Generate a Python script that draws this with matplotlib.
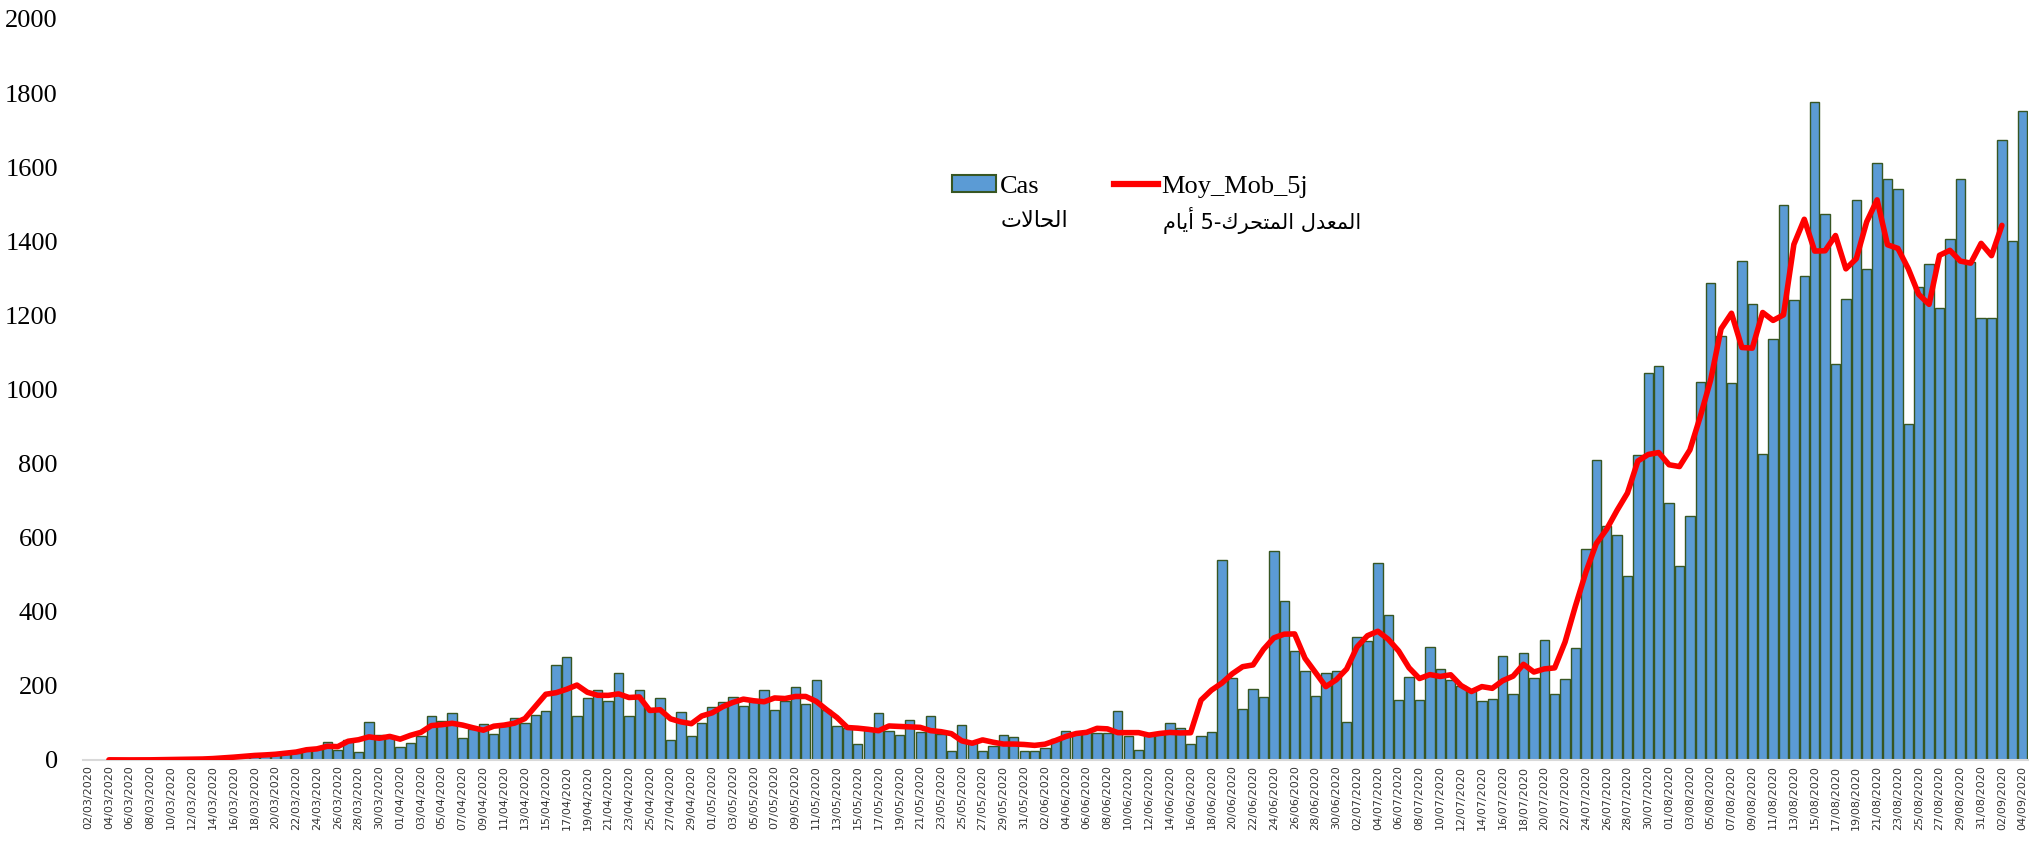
import matplotlib
matplotlib.use("Agg")
import matplotlib.pyplot as plt
from matplotlib.patches import Patch
from matplotlib.lines import Line2D
import numpy as np
import pandas as pd

# daily cases, 02/03/2020 -> 04/09/2020
cases_mar = [1, 0, 1, 0, 0, 0, 0, 1, 1, 2, 1, 2, 3, 5, 8, 10, 12, 14, 17, 15,
             19, 27, 29, 48, 27, 54, 22, 102, 68, 66]
cases_apr = [35, 47, 65, 120, 106, 126, 59, 84, 96, 70, 93, 113, 99, 122, 132,
             257, 277, 120, 168, 189, 160, 236, 119, 188, 140, 168, 53, 129, 65, 99]
cases_may = [144, 157, 171, 147, 158, 188, 135, 158, 198, 150, 216, 135, 92, 86,
             44, 81, 126, 77, 67, 108, 75, 120, 70, 23, 94, 48, 23, 38, 68, 63, 23]
cases_jun = [23, 32, 56, 79, 72, 78, 72, 72, 133, 65, 27, 72, 72, 99, 87, 42, 65,
             75, 539, 221, 137, 191, 171, 563, 430, 293, 241, 174, 234, 239]
cases_jul = [102, 333, 320, 532, 390, 162, 225, 162, 305, 245, 215, 200, 185, 160,
             164, 281, 177, 288, 221, 324, 177, 219, 302, 570, 811, 631, 606, 497,
             824, 1045, 1063]
cases_aug = [694, 523, 659, 1021, 1287, 1145, 1018, 1348, 1231, 825, 1136, 1499,
             1241, 1306, 1776, 1475, 1070, 1245, 1512, 1326, 1612, 1568, 1541, 906,
             1277, 1338, 1221, 1407, 1568, 1344, 1193]
cases_sep = [1193, 1674, 1402, 1753]

first_day = "2020-03-02"
last_day = "2020-09-04"

label_cases = "Cas"
label_avg = "Moy_Mob_5j"
ar_cases = "الحالات"
ar_avg = "المعدل المتحرك-5 أيام"

cases = cases_mar + cases_apr + cases_may + cases_jun + cases_jul + cases_aug + cases_sep
dates = pd.date_range(first_day, last_day)
moy_mob = pd.Series(cases).rolling(5, center=True).mean()

# matplotlib has no arabic shaping, so pick the presentation forms by hand
FORMS = {  # isolated, final, initial, medial
    "\u0627": ("\uFE8D", "\uFE8E", None, None),
    "\u0623": ("\uFE83", "\uFE84", None, None),
    "\u062F": ("\uFEA9", "\uFEAA", None, None),
    "\u0631": ("\uFEAD", "\uFEAE", None, None),
    "\u0644": ("\uFEDD", "\uFEDE", "\uFEDF", "\uFEE0"),
    "\u062D": ("\uFEA1", "\uFEA2", "\uFEA3", "\uFEA4"),
    "\u062A": ("\uFE95", "\uFE96", "\uFE97", "\uFE98"),
    "\u0645": ("\uFEE1", "\uFEE2", "\uFEE3", "\uFEE4"),
    "\u0639": ("\uFEC9", "\uFECA", "\uFECB", "\uFECC"),
    "\u0643": ("\uFED9", "\uFEDA", "\uFEDB", "\uFEDC"),
    "\u064A": ("\uFEF1", "\uFEF2", "\uFEF3", "\uFEF4"),
}
LAM_ALEF = {"\u0627": ("\uFEFB", "\uFEFC"), "\u0623": ("\uFEF7", "\uFEF8")}


def shape(text):
    out = []
    i = 0
    prev_joins = False
    while i < len(text):
        c = text[i]
        if c not in FORMS:
            out.append(c)
            prev_joins = False
            i += 1
            continue
        if c == "\u0644" and i + 1 < len(text) and text[i + 1] in LAM_ALEF:
            iso, fin = LAM_ALEF[text[i + 1]]
            out.append(fin if prev_joins else iso)
            prev_joins = False
            i += 2
            continue
        iso, fin, ini, med = FORMS[c]
        nxt = text[i + 1] if i + 1 < len(text) else None
        next_joins = ini is not None and nxt in FORMS
        if prev_joins and next_joins:
            out.append(med)
        elif prev_joins:
            out.append(fin)
        elif next_joins:
            out.append(ini)
        else:
            out.append(iso)
        prev_joins = ini is not None
        i += 1
    return "".join(out)[::-1]


fig = plt.figure(figsize=(20.42, 8.48), dpi=100)
ax = fig.add_axes([0.0406, 0.1038, 0.9525, 0.8738])

x = np.arange(len(cases))
ax.bar(x, cases, width=0.9, color="#5B9BD5", edgecolor="#375623", linewidth=1.0, zorder=2)
ax.plot(x, moy_mob, color="#FF0000", lw=4.0, solid_joinstyle="round",
        solid_capstyle="round", zorder=3)

ax.set_xlim(-0.5, len(cases) - 0.5)
ax.set_ylim(0, 2000)
ax.set_yticks(range(0, 2001, 200))
ax.tick_params(axis="y", length=0, pad=18, labelsize=19)
for t in ax.get_yticklabels():
    t.set_fontfamily("Liberation Serif")

ticks = x[::2]
ax.set_xticks(ticks)
ax.set_xticklabels([dates[i].strftime("%d/%m/%Y") for i in ticks], rotation=90,
                   fontsize=8, color="#333333", family="DejaVu Sans")
ax.tick_params(axis="x", length=0, pad=4)

for s in ["top", "right", "left"]:
    ax.spines[s].set_visible(False)
ax.spines["bottom"].set_color("#D9D9D9")
ax.spines["bottom"].set_linewidth(1.5)

handles = [Patch(facecolor="#5B9BD5", edgecolor="#375623", linewidth=1.5),
           Line2D([], [], color="#FF0000", lw=4.5)]
ax.legend(handles, [label_cases, label_avg], ncol=2, frameon=False,
          loc="upper left", bbox_to_anchor=(952 / 2042, 1 - 175 / 848),
          bbox_transform=fig.transFigure, borderpad=0, borderaxespad=0,
          handlelength=1.67, handleheight=0.6, handletextpad=0.15,
          columnspacing=2.8, prop={"family": "Liberation Serif", "size": 19})

fig.text(1001 / 2042, 1 - 221 / 848, shape(ar_cases), ha="left", va="center",
         fontsize=16, family="DejaVu Sans")
fig.text(1163 / 2042, 1 - 221 / 848, shape(ar_avg), ha="left", va="center",
         fontsize=15, family="DejaVu Sans")

fig.savefig("out.png", dpi=100)
